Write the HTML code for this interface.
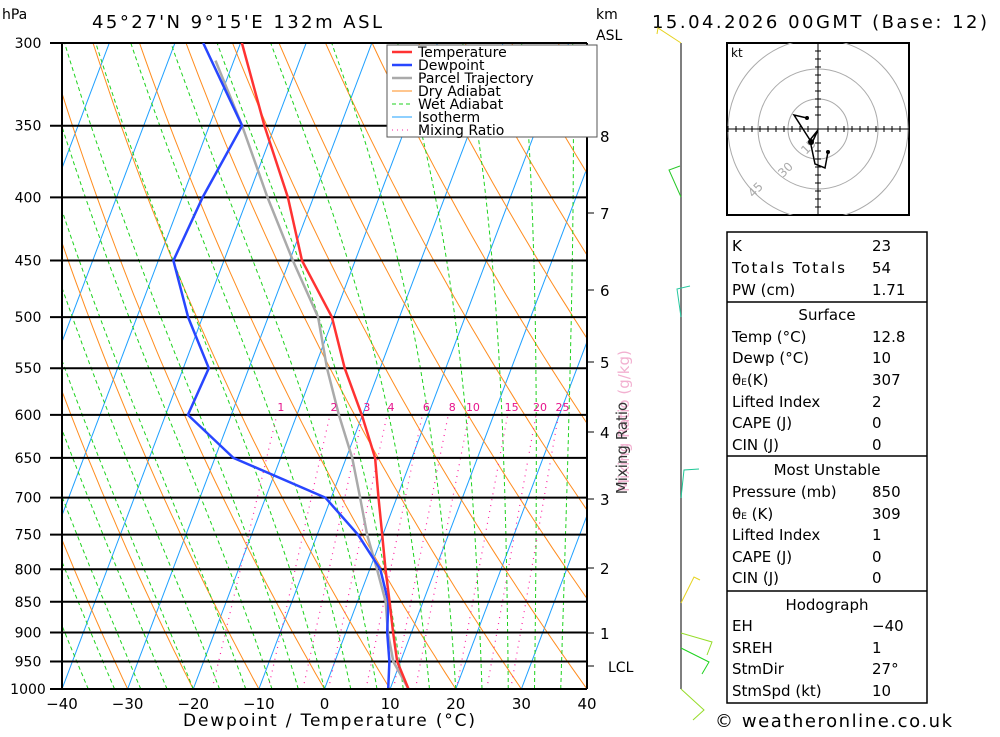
<!DOCTYPE html>
<html><head><meta charset="utf-8"><style>
body{margin:0;background:#fff;width:1000px;height:733px;overflow:hidden;font-family:"DejaVu Sans",sans-serif}
svg text{font-family:"DejaVu Sans","Liberation Sans",sans-serif}
</style></head><body>
<svg id="c" width="1000" height="733" viewBox="0 0 1000 733">
<defs><clipPath id="plot"><rect x="62" y="43" width="525" height="646"/></clipPath></defs>
<g id="bg" clip-path="url(#plot)"></g>
<g id="grid"></g>
<g id="series" clip-path="url(#plot)"></g>
<g id="axes"></g>
</svg>
<script>
const pressures=[1000,950,900,850,800,750,700,650,600,550,500,450,400,350,300];
const tempVals=[12.8,9.5,7.2,4.9,2.4,-0.1,-2.8,-5.6,-10.1,-15.4,-20.3,-28.1,-33.9,-41.6,-49.8];
const dewVals=[9.7,8.3,6.3,4.7,1.6,-3.8,-10.9,-27.2,-36.6,-36.1,-42.2,-47.7,-46.9,-45,-55.7];
const parcelP=[1000,950,900,850,800,750,700,650,600,550,500,450,400,350,310];
const parcelVals=[12.8,8.9,6.4,4.3,1.1,-2.4,-5.6,-9.1,-13.6,-18.1,-22.4,-29.5,-37,-45,-52.8];
const xTicks=[-40,-30,-20,-10,0,10,20,30,40];
const kmLabels=["1","2","3","4","5","6","7","8"];
const kmY=[633,568,499,432,362,290,213,136];
const mixRatios=[1,2,3,4,6,8,10,15,20,25];

const NS="http://www.w3.org/2000/svg";
const X0=62,Y0=689,H=646,PX=6.5625,SK=0.378;
function yP(p){return Y0-Math.log(1000/p)/Math.log(1000/300)*H;}
function xT(t,p){const y=yP(p);return X0+(t+40)*PX+SK*(Y0-y);}
function mk(tag,attrs,parent){const e=document.createElementNS(NS,tag);for(const k in attrs)e.setAttribute(k,attrs[k]);parent.appendChild(e);return e;}
const bg=document.getElementById('bg'),grid=document.getElementById('grid'),ser=document.getElementById('series'),ax=document.getElementById('axes');
function polyStr(pts){return pts.map(q=>q[0].toFixed(1)+','+q[1].toFixed(1)).join(' ');}
const pl=[];for(let p=1000;p>=290;p-=10)pl.push(p);
for(let t=-130;t<=40;t+=10){const l=mk('line',{x1:xT(t,1000),y1:yP(1000),x2:xT(t,280),y2:yP(280),stroke:'#1ea0ff','stroke-width':1},bg);

}
for(let th=-40;th<=220;th+=10){const pts=pl.map(p=>[xT((th+273.15)*Math.pow(p/1000,0.286)-273.15,p),yP(p)]);
const e=mk('polyline',{points:polyStr(pts),fill:'none',stroke:'#ff8c1e','stroke-width':1},bg);

}
function es(t){return 6.112*Math.exp(17.67*t/(t+243.5));}
for(let tw=-36;tw<=40;tw+=4){let T=tw+273.15;const pts=[];for(let p=1000;p>=290;p-=5){pts.push([xT(T-273.15,p),yP(p)]);
const rs=0.622*es(T-273.15)/(p-es(T-273.15));const dTdp=(287*T+2.5e6*rs)/(p*(1004+2.5e6*2.5e6*rs*0.622/(287*T*T)));T-=dTdp*5;}
const e=mk('polyline',{points:polyStr(pts),fill:'none',stroke:'#1ed21e','stroke-width':1,'stroke-dasharray':'4,3'},bg);

}
function tdW(w,p){const e=w*p/(622+w);const l=Math.log(e/6.112);return 243.5*l/(17.67-l);}
mixRatios.forEach(w=>{const e=mk('line',{x1:xT(tdW(w,1000),1000),y1:yP(1000),x2:xT(tdW(w,600),600),y2:yP(600),stroke:'#ff1ea0','stroke-width':1.2,'stroke-dasharray':'1,5'},bg);


const t=mk('text',{x:xT(tdW(w,600),600)+4,y:yP(600)-4,'font-size':11,fill:'#e6148c','text-anchor':'middle'},ax);t.textContent=w;

});
pressures.forEach(p=>{const y=yP(p);const l=mk('line',{x1:50,y1:y,x2:587,y2:y,stroke:'#000','stroke-width':2},grid);


const t=mk('text',{x:28,y:y+5,'font-size':14,'text-anchor':'middle',fill:'#000'},ax);t.textContent=p;

});
function series(P,V,col,w,name){const e=mk('polyline',{points:polyStr(P.map((p,i)=>[xT(V[i],p),yP(p)])),fill:'none',stroke:col,'stroke-width':w,'stroke-linejoin':'round'},ser);

}
series(parcelP,parcelVals,'#aaaaaa',2.5,'parcel-line');
series(pressures,dewVals,'#2846ff',2.5,'dewpoint-line');
series(pressures,tempVals,'#ff3232',2.5,'temperature-line');
mk('line',{x1:62,y1:43,x2:62,y2:689,stroke:'#000','stroke-width':2},ax);
mk('line',{x1:62,y1:689,x2:587,y2:689,stroke:'#000','stroke-width':2},ax);
mk('line',{x1:587,y1:43,x2:587,y2:689,stroke:'#000','stroke-width':2},ax);
xTicks.forEach(t=>{const x=X0+(t+40)*PX;const e=mk('text',{x:x,y:709,'font-size':15,'text-anchor':'middle'},ax);e.textContent=(t<0?'\u2212'+(-t):t);

});
kmLabels.forEach((k,i)=>{mk('line',{x1:587,y1:kmY[i],x2:594,y2:kmY[i],stroke:'#000'},ax);const e=mk('text',{x:600,y:kmY[i]+6,'font-size':15},ax);e.textContent=k;

});
</script>
<svg width="1000" height="733" style="position:absolute;left:0;top:0">
<text x="2" y="19" font-size="14">hPa</text>
<text x="92" y="28" font-size="18" textLength="290" lengthAdjust="spacing">45°27'N 9°15'E 132m ASL</text>
<text x="596" y="19" font-size="14">km</text>
<text x="596" y="40" font-size="14">ASL</text>
<text x="652" y="28" font-size="18" textLength="335" lengthAdjust="spacing">15.04.2026 00GMT (Base: 12)</text>
<text x="183" y="726" font-size="17" textLength="292" lengthAdjust="spacing">Dewpoint / Temperature (°C)</text>
<line x1="587" y1="666" x2="594" y2="666" stroke="#000"/>
<text x="608" y="672" font-size="14">LCL</text>
<text transform="translate(629,421) rotate(-90)" font-size="15" text-anchor="middle" fill="#f2b0d0">Mixing Ratio (g/kg)</text>
<text transform="translate(627,448) rotate(-90)" font-size="15" text-anchor="middle" fill="#333">Mixing Ratio</text>
<g>
<rect x="387" y="45" width="210" height="92" fill="#fff" stroke="#555"/>
<g font-size="14">
<line x1="392" y1="52" x2="412" y2="52" stroke="#ff3232" stroke-width="2.5"/><text x="418" y="57">Temperature</text>
<line x1="392" y1="65" x2="412" y2="65" stroke="#2846ff" stroke-width="2.5"/><text x="418" y="70">Dewpoint</text>
<line x1="392" y1="78" x2="412" y2="78" stroke="#aaa" stroke-width="2.5"/><text x="418" y="83">Parcel Trajectory</text>
<line x1="392" y1="91" x2="412" y2="91" stroke="#ff8c1e"/><text x="418" y="96">Dry Adiabat</text>
<line x1="392" y1="104" x2="412" y2="104" stroke="#1ed21e" stroke-dasharray="4,3"/><text x="418" y="109">Wet Adiabat</text>
<line x1="392" y1="117" x2="412" y2="117" stroke="#1ea0ff"/><text x="418" y="122">Isotherm</text>
<line x1="392" y1="130" x2="412" y2="130" stroke="#ff1ea0" stroke-dasharray="1,4"/><text x="418" y="135">Mixing Ratio</text>
</g></g>
<g>
<line x1="681" y1="43" x2="681" y2="689" stroke="#555" stroke-width="1.5"/>
<polyline points="681,43 658,28 657,34" fill="none" stroke="#e6d21e"/>
<polyline points="681,197 669,170 680,166" fill="none" stroke="#28c828"/>
<polyline points="681,317 677,289 690,286" fill="none" stroke="#28c8a0"/>
<polyline points="681,498 684,470 699,469" fill="none" stroke="#1ec896"/>
<polyline points="681,603 694,577 700,580" fill="none" stroke="#e6d21e"/>
<polyline points="681,633 712,642 707,655" fill="none" stroke="#96dc28"/>
<polyline points="681,648 709,662 702,674" fill="none" stroke="#1ed21e"/>
<polyline points="681,689 704,710 693,720" fill="none" stroke="#96dc28"/>
</g>
<g>
<rect x="727" y="43" width="182" height="172" fill="#fff" stroke="#000" stroke-width="2"/>
<clipPath id="hc"><rect x="727" y="43" width="182" height="172"/></clipPath>
<g clip-path="url(#hc)" fill="none" stroke="#aaa">
<circle cx="818" cy="129" r="30"/><circle cx="818" cy="129" r="60"/><circle cx="818" cy="129" r="90"/></g>
<line x1="727" y1="129" x2="909" y2="129" stroke="#000"/><line x1="818" y1="43" x2="818" y2="215" stroke="#000"/>
<path d="M728,126v6M736,126v6M744,126v6M752,126v6M760,126v6M768,126v6M776,126v6M784,126v6M792,126v6M800,126v6M808,126v6M828,126v6M836,126v6M844,126v6M852,126v6M860,126v6M868,126v6M876,126v6M884,126v6M892,126v6M900,126v6M815,51h6M815,59h6M815,67h6M815,75h6M815,83h6M815,91h6M815,99h6M815,107h6M815,115h6M815,143h6M815,151h6M815,159h6M815,167h6M815,175h6M815,183h6M815,191h6M815,199h6M815,207h6" stroke="#000"/>
<text x="731" y="57" font-size="12">kt</text>
<text x="806" y="155" font-size="12" fill="#aaa" transform="rotate(-45 806 155)">15</text>
<text x="783" y="178" font-size="12" fill="#aaa" transform="rotate(-45 783 178)">30</text>
<text x="753" y="198" font-size="12" fill="#aaa" transform="rotate(-45 753 198)">45</text>
<polyline points="807,118 794,115 810,140 818,130 811,145 815,164 825,168 828,152" fill="none" stroke="#000" stroke-width="1.5"/>
<circle cx="807" cy="118" r="2"/><circle cx="811" cy="142" r="3"/><circle cx="828" cy="152" r="2"/>
</g>
<g font-size="15">
<rect x="727" y="232" width="200" height="471" fill="#fff" stroke="#000" stroke-width="1.5"/>
<line x1="727" y1="302" x2="927" y2="302" stroke="#000" stroke-width="1.5"/>
<line x1="727" y1="456" x2="927" y2="456" stroke="#000" stroke-width="1.5"/>
<line x1="727" y1="591" x2="927" y2="591" stroke="#000" stroke-width="1.5"/>
<text x="732" y="251">K</text><text x="872" y="251">23</text>
<text x="732" y="273" textLength="113" lengthAdjust="spacing">Totals Totals</text><text x="872" y="273">54</text>
<text x="732" y="295">PW (cm)</text><text x="872" y="295">1.71</text>
<text x="827" y="320" text-anchor="middle">Surface</text>
<text x="732" y="342">Temp (°C)</text><text x="872" y="342">12.8</text>
<text x="732" y="363">Dewp (°C)</text><text x="872" y="363">10</text>
<text x="732" y="385">θ<tspan font-size="9">E</tspan>(K)</text><text x="872" y="385">307</text>
<text x="732" y="407">Lifted Index</text><text x="872" y="407">2</text>
<text x="732" y="428">CAPE (J)</text><text x="872" y="428">0</text>
<text x="732" y="450">CIN (J)</text><text x="872" y="450">0</text>
<text x="827" y="475" text-anchor="middle">Most Unstable</text>
<text x="732" y="497">Pressure (mb)</text><text x="872" y="497">850</text>
<text x="732" y="519">θ<tspan font-size="9">E</tspan> (K)</text><text x="872" y="519">309</text>
<text x="732" y="540">Lifted Index</text><text x="872" y="540">1</text>
<text x="732" y="562">CAPE (J)</text><text x="872" y="562">0</text>
<text x="732" y="583">CIN (J)</text><text x="872" y="583">0</text>
<text x="827" y="610" text-anchor="middle">Hodograph</text>
<text x="732" y="631">EH</text><text x="872" y="631">−40</text>
<text x="732" y="653">SREH</text><text x="872" y="653">1</text>
<text x="732" y="674">StmDir</text><text x="872" y="674">27°</text>
<text x="732" y="696">StmSpd (kt)</text><text x="872" y="696">10</text>
</g>
<text x="715" y="727" font-size="18" textLength="237" lengthAdjust="spacing">© weatheronline.co.uk</text>
</svg>
</body></html>
